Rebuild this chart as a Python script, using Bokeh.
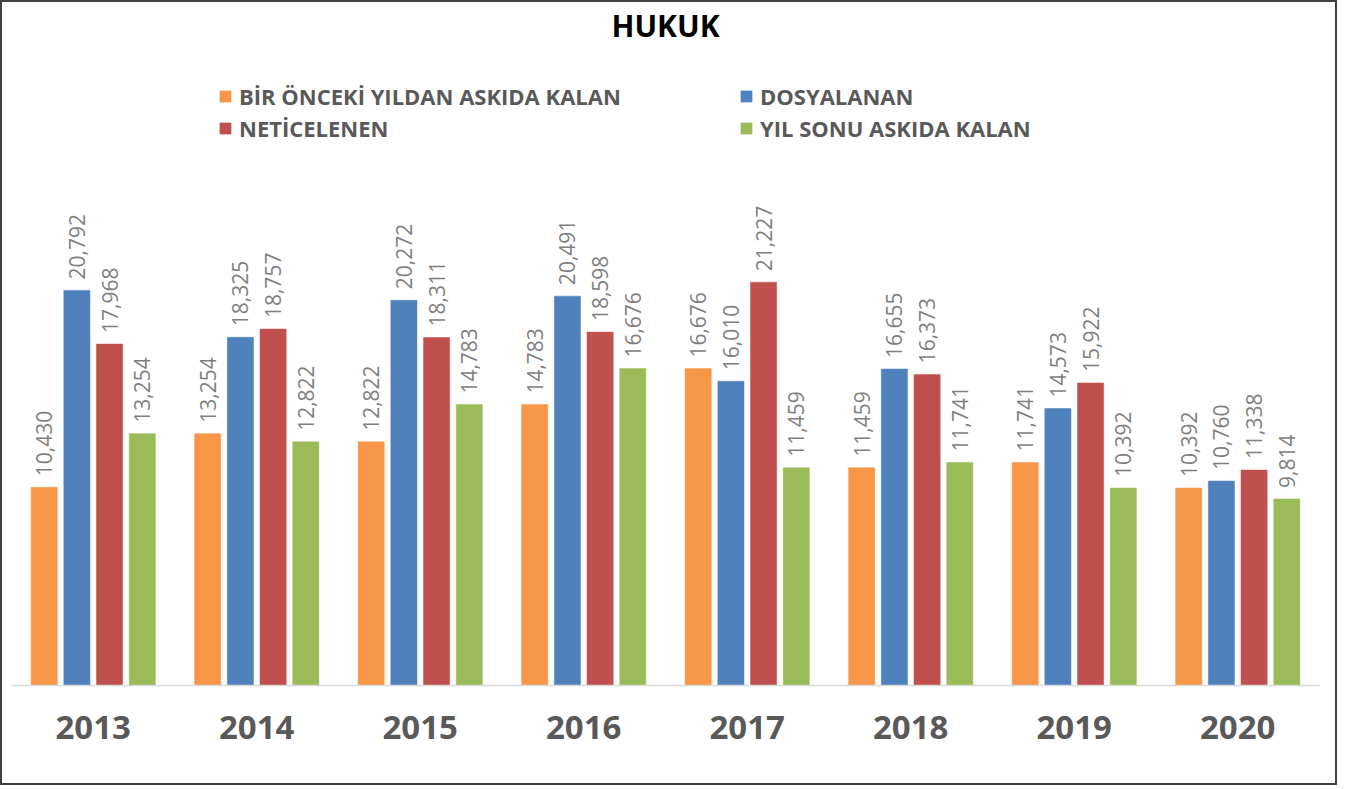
from bokeh.plotting import figure
from bokeh.models import ColumnDataSource, Range1d, Legend, LegendItem
from bokeh.transform import dodge
from bokeh.core.properties import value
from bokeh.embed import file_html
from bokeh.resources import INLINE
import math

years = ["2013", "2014", "2015", "2016", "2017", "2018", "2019", "2020"]
series_names = ["BİR ÖNCEKİ YILDAN ASKIDA KALAN", "DOSYALANAN", "NETİCELENEN", "YIL SONU ASKIDA KALAN"]
onceki = [10430, 13254, 12822, 14783, 16676, 11459, 11741, 10392]
dosyalanan = [20792, 18325, 20272, 20491, 16010, 16655, 14573, 10760]
neticelenen = [17968, 18757, 18311, 18598, 21227, 16373, 15922, 11338]
yil_sonu = [13254, 12822, 14783, 16676, 11459, 11741, 10392, 9814]
colors = ["#F79646", "#4F81BD", "#C0504D", "#9BBB59"]
offsets = [-0.3, -0.1, 0.1, 0.3]
series = [onceki, dosyalanan, neticelenen, yil_sonu]

FONT = "Open Sans"

p = figure(x_range=years, y_range=Range1d(0, 33470), width=1337, height=785,
           output_backend="svg", toolbar_location=None,
           min_border_left=9, min_border_right=20, min_border_top=46, min_border_bottom=102)
p.styles = {"border": "2px solid #404040"}
p.x_range.range_padding = 0
p.background_fill_color = "white"
p.border_fill_color = "white"
p.outline_line_color = None
p.xgrid.grid_line_color = None
p.ygrid.grid_line_color = None
p.yaxis.visible = False

p.title.text = "HUKUK"
p.title.align = "center"
p.title.vertical_align = "top"
p.title.text_font = FONT
p.title.text_font_size = "30px"
p.title.text_font_style = "bold"
p.title.text_color = "#000000"
p.title.offset = 0
p.title.standoff = 4

p.xaxis.axis_line_color = "#d9d9d9"
p.xaxis.axis_line_width = 1.5
p.xaxis.major_tick_line_color = None
p.xaxis.minor_tick_line_color = None
p.xaxis.major_label_text_font = FONT
p.xaxis.major_label_text_font_size = "33px"
p.xaxis.major_label_text_font_style = "bold"
p.xaxis.major_label_text_color = "#595959"
p.xaxis.major_label_standoff = 24

renderers = []
for name, vals, col, off in zip(series_names, series, colors, offsets):
    src = ColumnDataSource(dict(year=years, v=vals, lbl=[f"{x:,}" for x in vals]))
    r = p.vbar(x=dodge("year", off, range=p.x_range), top="v", width=0.16, source=src,
               fill_color=col, line_color=col, line_width=0.5)
    p.text(x=dodge("year", off, range=p.x_range), y="v", text="lbl", source=src,
           angle=math.pi / 2, text_align="left", text_baseline="middle", y_offset=-11,
           text_font=value(FONT), text_font_size="21px", text_color="#7f7f7f")
    renderers.append(r)

order = [0, 2, 1, 3]
items = [LegendItem(label=series_names[i], renderers=[renderers[i]]) for i in order]

legend = Legend(items=items, ncols=2, location=(207, 542), padding=0, margin=0,
                spacing=2, glyph_width=14, glyph_height=14, label_height=19,
                label_width=498, label_standoff=7,
                label_text_font=FONT, label_text_font_size="22px",
                label_text_font_style="bold", label_text_color="#595959",
                border_line_color=None, background_fill_alpha=0)
p.add_layout(legend)

open("out.html", "w").write(file_html(p, INLINE))
